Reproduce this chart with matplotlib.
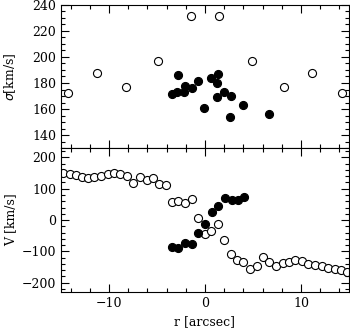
import matplotlib
matplotlib.use('Agg')
import matplotlib.pyplot as plt
from matplotlib.ticker import MultipleLocator

# upper panel: velocity dispersion
sig_open_r = [-14.24, -11.2, -8.2, -4.86, -1.5, 1.5, 4.86, 8.2, 11.2, 14.24]
sig_open = [172.4, 187.7, 177.0, 196.6, 231.6, 231.6, 196.6, 177.0, 187.7, 172.4]

sig_fill_r = [-3.47, -2.89, -2.78, -2.19, -2.08, -1.39, -0.70, -0.14, 0.60,
              1.32, 1.28, 1.28, 1.98, 2.67, 2.60, 4.00, 6.70]
sig_fill = [171.9, 173.4, 186.2, 172.9, 177.5, 176.0, 181.6, 161.0, 184.1,
            186.7, 180.0, 169.4, 172.9, 169.8, 154.0, 163.3, 156.4]

# lower panel: rotation velocity
v_open_r = [-14.76, -14.06, -13.44, -12.85, -12.16, -11.53, -10.83, -10.07, -9.45,
            -8.85, -8.16, -7.47, -6.77, -6.07, -5.45, -4.76, -4.06,
            -3.47, -2.78, -2.08, -1.39, -0.70, 0.0, 0.66, 1.35,
            2.0, 2.7, 3.3, 4.0, 4.65, 5.4, 6.02, 6.72, 7.4, 8.08,
            8.72, 9.42, 10.08, 10.77, 11.46, 12.16, 12.84, 13.54, 14.17, 14.76]
v_open = [151, 146, 143, 139, 135, 137, 141, 146, 151,
          148, 141, 119, 139, 128, 133, 114, 113,
          56, 60, 55, 68, 7, -45, -34, -14,
          -64, -108, -128, -135, -158, -147, -117, -133, -146, -137,
          -135, -128, -131, -139, -144, -146, -153, -155, -160, -167]

v_fill_r = [-3.47, -2.78, -2.08, -1.39, -0.70, 0.0, 0.70, 1.39, 2.08, 2.78, 3.47, 4.10]
v_fill = [-86, -90, -72, -78, -41, -13, 25, 44, 70, 63, 64, 74]

plt.rcParams['font.family'] = ['DejaVu Serif']
plt.rcParams['font.size'] = 9
plt.rcParams['axes.linewidth'] = 0.8

fig = plt.figure(figsize=(3.5, 3.29), dpi=100)
ax1 = fig.add_axes([0.174, 0.550, 0.823, 0.435])
ax2 = fig.add_axes([0.174, 0.1125, 0.823, 0.4375], sharex=ax1)

ms = 5.8
for ax in (ax1, ax2):
    ax.tick_params(which='both', direction='in', top=True, right=True, width=0.8)
    ax.tick_params(which='major', length=5.5)
    ax.tick_params(which='minor', length=2.8)
    ax.xaxis.set_major_locator(MultipleLocator(10))
    ax.xaxis.set_minor_locator(MultipleLocator(2))

ax1.plot(sig_open_r, sig_open, 'o', ms=ms, mfc='white', mec='black', mew=0.8, clip_on=False)
ax1.plot(sig_fill_r, sig_fill, 'o', ms=ms, mfc='black', mec='black', mew=0.8)
ax1.set_xlim(-15, 15)
ax1.set_ylim(130, 240)
ax1.yaxis.set_major_locator(MultipleLocator(20))
ax1.yaxis.set_minor_locator(MultipleLocator(5))
ax1.set_yticks([140, 160, 180, 200, 220, 240])
ax1.tick_params(labelbottom=False)
ax1.set_ylabel(r'$\sigma$[km/s]')

ax2.plot(v_open_r, v_open, 'o', ms=ms, mfc='white', mec='black', mew=0.8)
ax2.plot(v_fill_r, v_fill, 'o', ms=ms, mfc='black', mec='black', mew=0.8)
ax2.set_ylim(-230, 230)
ax2.yaxis.set_major_locator(MultipleLocator(100))
ax2.yaxis.set_minor_locator(MultipleLocator(20))
ax2.set_ylabel('V [km/s]')
ax2.set_xlabel('r [arcsec]')

for ax in (ax1, ax2):
    ax.yaxis.set_label_coords(-0.15, 0.5)

fig.savefig('out.png', dpi=100)
